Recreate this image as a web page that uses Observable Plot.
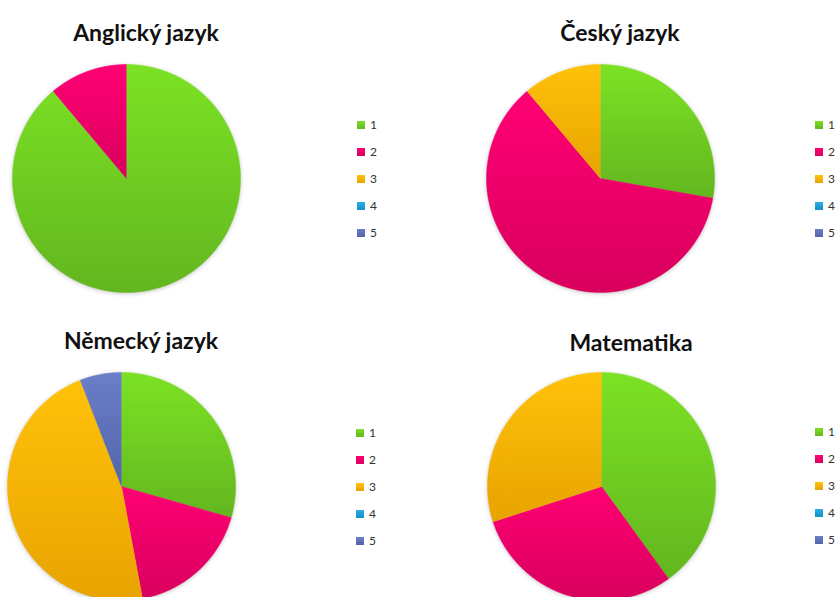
<!DOCTYPE html>
<html><head><meta charset="utf-8">
<script src="https://cdn.jsdelivr.net/npm/d3@7"></script>
<script src="https://cdn.jsdelivr.net/npm/@observablehq/plot@0.6"></script>
<style>
body{margin:0;background:#fff;}
#chart{position:relative;width:835px;height:597px;overflow:hidden;font-family:Lato,"Open Sans",sans-serif;background:#fff;}
.panel{position:absolute;}
.panel g[aria-label="line"]{filter:drop-shadow(0 1px 2px rgba(0,0,0,0.22));}
.title{position:absolute;font-weight:bold;font-size:23px;color:#111;transform:translate(-50%,-50%);white-space:nowrap;}
.legend{position:absolute;font-size:12px;color:#333;}
.legend .row{display:flex;align-items:center;height:27px;}
.legend .sw{width:8px;height:8px;margin-right:5px;}
</style>
</head><body>
<svg width="0" height="0" style="position:absolute">
<defs id="defs"></defs>
</svg>
<div id="chart"></div>
<script>
// ---- data ----
const grades = ["1", "2", "3", "4", "5"];
const subjects = ["Anglický jazyk", "Český jazyk", "Německý jazyk", "Matematika"];
const anglicky = [16, 2, 0, 0, 0];
const cesky = [5, 11, 2, 0, 0];
const nemecky = [5, 3, 8, 0, 1];
const matematika = [4, 3, 3, 0, 0];

// ---- styles ----
const topColors = ["#7ce224", "#ff0073", "#ffc20a", "#2cb0e4", "#6a7fc8"];
const bottomColors = ["#63b61f", "#d9005e", "#e8a300", "#158fc4", "#5363a8"];

const defs = document.getElementById("defs");
grades.forEach((g, i) => {
  defs.insertAdjacentHTML("beforeend",
    `<linearGradient id="grad${g}" x1="0" y1="0" x2="0" y2="1">
       <stop offset="0" stop-color="${topColors[i]}"/>
       <stop offset="1" stop-color="${bottomColors[i]}"/>
     </linearGradient>`);
});

function slices(values) {
  const arcs = d3.pie().sort(null).value(d => d)(values);
  const rows = [];
  arcs.forEach((a, i) => {
    const span = a.endAngle - a.startAngle;
    if (span <= 0) return;
    const g = grades[i];
    rows.push({grade: g, x: 0, y: 0});
    const n = Math.max(2, Math.ceil(span / (Math.PI / 360)));
    for (let k = 0; k <= n; k++) {
      const t = a.startAngle + span * k / n;
      rows.push({grade: g, x: Math.sin(t), y: Math.cos(t)});
    }
  });
  return rows;
}

const layout = [
  {values: anglicky,   left: 0,   top: 0,   w: 417, h: 298, cx: 126, cy: 178, tx: 146, ty: 32,  lx: 357, ly: 111},
  {values: cesky,      left: 418, top: 0,   w: 417, h: 298, cx: 182, cy: 178, tx: 620, ty: 32,  lx: 815, ly: 111},
  {values: nemecky,    left: 0,   top: 298, w: 417, h: 299, cx: 121, cy: 188, tx: 141, ty: 340, lx: 356, ly: 419},
  {values: matematika, left: 418, top: 298, w: 417, h: 299, cx: 183, cy: 188, tx: 631, ty: 342, lx: 815, ly: 418}
];
const R = 114;
const chart = document.getElementById("chart");

layout.forEach((p, i) => {
  const plot = Plot.plot({
    width: p.w,
    height: p.h,
    x: {domain: [-1, 1], range: [p.cx - R, p.cx + R], axis: null},
    y: {domain: [-1, 1], range: [p.cy + R, p.cy - R], axis: null},
    color: {type: "ordinal", domain: grades, range: grades.map(g => `url(#grad${g})`)},
    style: {background: "transparent", overflow: "visible"},
    marks: [
      Plot.line(slices(p.values), {x: "x", y: "y", z: "grade", fill: "grade", stroke: "grade", strokeWidth: 0.5, curve: "linear"})
    ]
  });
  plot.classList.add("panel");
  plot.style.left = p.left + "px";
  plot.style.top = p.top + "px";
  chart.appendChild(plot);

  const t = document.createElement("div");
  t.className = "title";
  t.textContent = subjects[i];
  t.style.left = p.tx + "px";
  t.style.top = p.ty + "px";
  chart.appendChild(t);

  const lg = document.createElement("div");
  lg.className = "legend";
  lg.style.left = p.lx + "px";
  lg.style.top = p.ly + "px";
  grades.forEach((g, j) => {
    const row = document.createElement("div");
    row.className = "row";
    const sw = document.createElement("div");
    sw.className = "sw";
    sw.style.background = `linear-gradient(${topColors[j]}, ${bottomColors[j]})`;
    const lab = document.createElement("span");
    lab.textContent = g;
    row.appendChild(sw);
    row.appendChild(lab);
    lg.appendChild(row);
  });
  chart.appendChild(lg);
});
</script>
</body></html>
